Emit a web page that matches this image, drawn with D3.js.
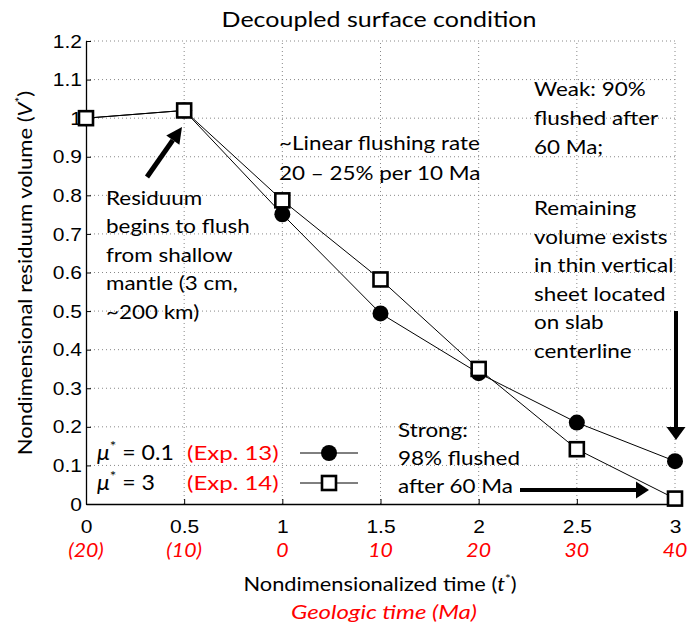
<!DOCTYPE html>
<html><head><meta charset="utf-8">
<script src="https://cdn.jsdelivr.net/npm/d3@7"></script>
<style>body{margin:0;background:#fff}svg{display:block}</style>
</head><body><svg id="c" width="690" height="628"></svg>
<script>
const tValues = [0, 0.5, 1, 1.5, 2, 2.5, 3];
const geoLabels = ["(20)", "(10)", "0", "10", "20", "30", "40"];
const weakValues = [1.0, 1.02, 0.751, 0.494, 0.339, 0.211, 0.111];   // mu*=0.1 (Exp. 13), circles
const strongValues = [1.0, 1.02, 0.787, 0.582, 0.350, 0.142, 0.014]; // mu*=3 (Exp. 14), squares
const yTicks = [0, 0.1, 0.2, 0.3, 0.4, 0.5, 0.6, 0.7, 0.8, 0.9, 1, 1.1, 1.2];

const svg = d3.select("#c");
const x = d3.scaleLinear().domain([0, 3]).range([86, 675]);
const y = d3.scaleLinear().domain([0, 1.2]).range([504, 41]);
const ann = "Lato, 'Open Sans', sans-serif";
const tickFont = "'Liberation Sans', Arial, sans-serif";
const TSX = 1.2; // horizontal stretch for tick labels

// grid
const g = svg.append("g");
g.selectAll(".gx").data(tValues.slice(1)).enter().append("line")
  .attr("x1", d => x(d)).attr("x2", d => x(d)).attr("y1", y(0)).attr("y2", y(1.2))
  .attr("stroke", "#888").attr("stroke-width", 1).attr("stroke-dasharray", "1,3");
g.selectAll(".gy").data(yTicks.slice(1)).enter().append("line")
  .attr("x1", x(0)).attr("x2", x(3)).attr("y1", d => y(d)).attr("y2", d => y(d))
  .attr("stroke", "#888").attr("stroke-width", 1).attr("stroke-dasharray", "1,3");

// axes
const xAxis = d3.axisBottom(x).tickValues(tValues).tickSizeInner(-5).tickSizeOuter(0).tickFormat(d3.format("~g"));
const xa = svg.append("g").attr("transform", `translate(0,${y(0)})`).call(xAxis);
xa.select(".domain").attr("stroke", "#000").attr("stroke-width", 1.3);
xa.selectAll(".tick line").attr("stroke", "#000");
xa.selectAll("text").attr("font-family", tickFont).attr("font-size", 17.5).attr("fill", "#000")
  .attr("dy", null).attr("y", 0).attr("transform", `translate(0,29) scale(${TSX},1)`);

const yAxis = d3.axisLeft(y).tickValues(yTicks).tickSizeInner(-5).tickSizeOuter(0).tickFormat(d3.format("~g"));
const ya = svg.append("g").attr("transform", `translate(${x(0)},0)`).call(yAxis);
ya.select(".domain").attr("stroke", "#000").attr("stroke-width", 1.3);
ya.selectAll(".tick line").attr("stroke", "#000");
ya.selectAll("text").attr("font-family", tickFont).attr("font-size", 17.5).attr("fill", "#000")
  .attr("x", 0).attr("dy", "0.35em").attr("transform", `translate(-4,0) scale(${TSX},1)`);

// geologic time labels
svg.selectAll(".geo").data(tValues).enter().append("text")
  .attr("transform", d => `translate(${x(d)},557) scale(1.12,1)`).attr("text-anchor", "middle")
  .attr("font-family", ann).attr("font-style", "italic").attr("font-size", 19).attr("fill", "#f00")
  .text((d, i) => geoLabels[i]);

// series lines
const line = d3.line().x((d, i) => x(tValues[i])).y(d => y(d));
svg.append("path").datum(weakValues).attr("d", line).attr("fill", "none").attr("stroke", "#000").attr("stroke-width", 1);
svg.append("path").datum(strongValues).attr("d", line).attr("fill", "none").attr("stroke", "#000").attr("stroke-width", 1);

// markers
svg.selectAll(".c").data(weakValues).enter().append("circle")
  .attr("cx", (d, i) => x(tValues[i])).attr("cy", d => y(d)).attr("r", 8).attr("fill", "#000");
const S = 14;
svg.selectAll(".s").data(strongValues).enter().append("rect")
  .attr("x", (d, i) => x(tValues[i]) - S / 2).attr("y", d => y(d) - S / 2).attr("width", S).attr("height", S)
  .attr("fill", "#fff").attr("stroke", "#000").attr("stroke-width", 2.6);

// title and axis labels
svg.append("text").attr("transform", "translate(379,27) scale(1.19,1)").attr("text-anchor", "middle")
  .attr("font-family", ann).attr("font-size", 21).attr("fill", "#000").text("Decoupled surface condition");
const xl = svg.append("text").attr("transform", "translate(380,591) scale(1.12,1)").attr("text-anchor", "middle")
  .attr("font-family", ann).attr("font-size", 19.5).attr("fill", "#000");
xl.append("tspan").text("Nondimensionalized time (");
xl.append("tspan").attr("font-style", "italic").text("t");
xl.append("tspan").attr("font-size", 12).attr("dy", -8).text("*");
xl.append("tspan").attr("dy", 8).text(")");
svg.append("text").attr("transform", "translate(384,619) scale(1.2,1)").attr("text-anchor", "middle")
  .attr("font-family", ann).attr("font-style", "italic").attr("font-size", 20).attr("fill", "#f00").text("Geologic time (Ma)");
const yl = svg.append("text").attr("transform", "translate(32,273) rotate(-90) scale(1.13,1)").attr("text-anchor", "middle")
  .attr("font-family", ann).attr("font-size", 19.5).attr("fill", "#000");
yl.append("tspan").text("Nondimensional residuum volume (");
yl.append("tspan").attr("font-style", "italic").text("V");
yl.append("tspan").attr("font-size", 12).attr("dy", -8).text("*");
yl.append("tspan").attr("dy", 8).text(")");

// annotations
function block(lines, x0, y0, dy) {
  const t = svg.append("text").attr("transform", `translate(${x0},${y0}) scale(1.15,1)`)
    .attr("font-family", ann).attr("font-size", 19.5).attr("fill", "#000");
  lines.forEach((s, i) => t.append("tspan").attr("x", 0).attr("y", i * dy).text(s));
}
block(["~Linear flushing rate", "20 \u2013 25% per 10 Ma"], 279, 150, 30);
block(["Weak: 90%", "flushed after", "60 Ma;"], 534, 96, 29);
block(["Remaining", "volume exists", "in thin vertical", "sheet located", "on slab", "centerline"], 534, 215, 28.6);
block(["Residuum", "begins to flush", "from shallow", "mantle (3 cm,", "~200 km)"], 106, 205, 28.5);
block(["Strong:", "98% flushed", "after 60 Ma"], 398, 437, 28);

// arrows
function arrow(x1, y1, x2, y2, w, hl, hw) {
  const a = Math.atan2(y2 - y1, x2 - x1);
  const bx = x2 - hl * Math.cos(a), by = y2 - hl * Math.sin(a);
  svg.append("line").attr("x1", x1).attr("y1", y1).attr("x2", bx).attr("y2", by)
    .attr("stroke", "#000").attr("stroke-width", w);
  const px = Math.sin(a) * hw / 2, py = -Math.cos(a) * hw / 2;
  svg.append("path").attr("d", `M${x2},${y2}L${bx + px},${by + py}L${bx - px},${by - py}Z`).attr("fill", "#000");
}
arrow(147, 177, 182, 127, 5, 16, 16);
arrow(x(3) + 1, 311, x(3) + 1, 440, 4, 13, 19);
arrow(520, 490, 649, 490, 4, 13, 17);

// legend
function legRow(label, exp, yy, kind) {
  const t = svg.append("text").attr("transform", `translate(97,${yy}) scale(1.1,1)`)
    .attr("font-family", ann).attr("font-size", 21).attr("fill", "#000");
  t.append("tspan").attr("font-style", "italic").text("\u03bc");
  t.append("tspan").attr("font-size", 14).attr("dy", -9).text("*");
  t.append("tspan").attr("dy", 9).text(label);
  svg.append("text").attr("transform", `translate(187,${yy}) scale(1.2,1)`)
    .attr("font-family", ann).attr("font-size", 20).attr("fill", "#f00").text(exp);
  svg.append("line").attr("x1", 300).attr("x2", 358).attr("y1", yy - 7).attr("y2", yy - 7).attr("stroke", "#000");
  if (kind === "c") svg.append("circle").attr("cx", 329).attr("cy", yy - 7).attr("r", 8).attr("fill", "#000");
  else svg.append("rect").attr("x", 329 - S / 2).attr("y", yy - 7 - S / 2).attr("width", S).attr("height", S)
    .attr("fill", "#fff").attr("stroke", "#000").attr("stroke-width", 2.6);
}
legRow(" = 0.1", "(Exp. 13)", 460, "c");
legRow(" = 3", "(Exp. 14)", 490, "s");
</script></body></html>
